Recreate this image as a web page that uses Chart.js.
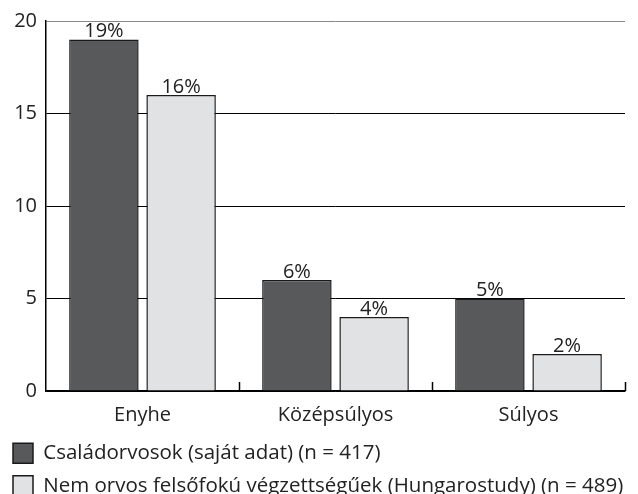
<!DOCTYPE html>
<html>
<head>
<meta charset="utf-8">
<script src="https://cdn.jsdelivr.net/npm/chart.js@4.4.1/dist/chart.umd.min.js"></script>
<style>
  html, body { margin: 0; padding: 0; background: #fff; }
  #wrap { width: 638px; height: 494px; }
</style>
</head>
<body>
<div id="wrap"><canvas id="myChart" width="638" height="494"></canvas></div>
<script>
// datos de la grafica
const categorias = ["Enyhe", "Középsúlyos", "Súlyos"];
const csaladorvosok = [19, 6, 5];
const nemOrvos = [16, 4, 2];
const etiquetas = ["Családorvosok (saját adat) (n = 417)", "Nem orvos felsőfokú végzettségűek (Hungarostudy) (n = 489)"];
const ticksY = [0, 5, 10, 15, 20];

const fuente = "'Open Sans', 'DejaVu Sans', sans-serif";

// etiquetas % encima de cada barra
const etiquetasBarras = {
  id: "etiquetasBarras",
  afterDatasetsDraw(chart) {
    const { ctx } = chart;
    ctx.save();
    ctx.font = "20px " + fuente;
    ctx.fillStyle = "#222";
    ctx.textAlign = "center";
    ctx.textBaseline = "bottom";
    chart.data.datasets.forEach((dataset, i) => {
      const meta = chart.getDatasetMeta(i);
      meta.data.forEach((bar, index) => {
        ctx.fillText(dataset.data[index] + "%", bar.x, bar.y + 2);
      });
    });
    ctx.restore();
  },
};

// marcas pequeñas entre categorias (hacia adentro)
const marcasX = {
  id: "marcasX",
  afterDraw(chart) {
    const { ctx } = chart;
    const x = chart.scales.x;
    const fondo = chart.chartArea.bottom;
    const paso = x.getPixelForValue(1) - x.getPixelForValue(0);
    ctx.save();
    ctx.strokeStyle = "#000";
    ctx.lineWidth = 1.5;
    for (let i = 0; i < categorias.length; i++) {
      const px = Math.round(x.getPixelForValue(i) + paso / 2) + 0.5;
      ctx.beginPath();
      ctx.moveTo(px, fondo);
      ctx.lineTo(px, fondo - 9);
      ctx.stroke();
    }
    ctx.restore();
  },
};

const data = {
  labels: categorias,
  datasets: [
    {
      label: etiquetas[0],
      data: csaladorvosok,
      backgroundColor: "#58595b",
      borderColor: "#1a1a1a",
      borderWidth: 1.5,
      categoryPercentage: 0.8,
      barPercentage: 0.9,
    },
    {
      label: etiquetas[1],
      data: nemOrvos,
      backgroundColor: "#e1e2e3",
      borderColor: "#1a1a1a",
      borderWidth: 1.5,
      categoryPercentage: 0.8,
      barPercentage: 0.9,
    },
  ],
};

const config = {
  type: "bar",
  data: data,
  options: {
    responsive: false,
    animation: false,
    layout: { padding: { left: 1, right: 13, top: 12, bottom: -12 } },
    plugins: {
      tooltip: { enabled: false },
      legend: {
        position: "bottom",
        align: "start",
        labels: {
          boxWidth: 20,
          boxHeight: 20,
          padding: 12,
          color: "#222",
          font: { size: 20.5, family: fuente },
        },
      },
    },
    scales: {
      x: {
        grid: { display: false },
        border: { color: "#000", width: 1.5 },
        ticks: { color: "#222", font: { size: 20, family: fuente }, padding: 4 },
      },
      y: {
        min: 0,
        max: 20,
        afterBuildTicks: (axis) => { axis.ticks = ticksY.map((v) => ({ value: v })); },
        afterFit: (scale) => { scale.width = 45; },
        grid: {
          color: (c) => (c.tick && c.tick.value === 20 ? "#888" : "#000"),
          lineWidth: 1,
          drawTicks: false,
        },
        border: { color: "#000", width: 1.5 },
        ticks: { color: "#222", font: { size: 20, family: fuente }, padding: 9 },
      },
    },
  },
  plugins: [etiquetasBarras, marcasX],
};

const myChart = new Chart(document.getElementById("myChart"), config);
</script>
</body>
</html>
